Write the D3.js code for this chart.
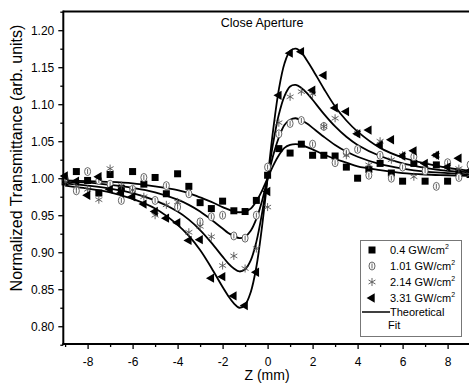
<!DOCTYPE html>
<html><head><meta charset="utf-8">
<script src="https://cdn.jsdelivr.net/npm/d3@7"></script>
<style>body{margin:0;background:#fff}svg{display:block}text{font-family:"Liberation Sans",Arial,sans-serif}</style>
</head><body>
<script>
const zData = [-9,-8.5,-8,-7.5,-7,-6.5,-6,-5.5,-5,-4.5,-4,-3.5,-3,-2.5,-2,-1.5,-1,-0.5,0,0.5,1,1.5,2,2.5,3,3.5,4,4.5,5,5.5,6,6.5,7,7.5,8,8.5,9];
const s040 = [0.995,1.009,0.997,0.980,1.005,0.986,1.009,0.992,1.001,0.979,1.006,0.989,0.967,0.959,0.969,0.956,0.955,0.970,1.004,1.040,1.034,1.046,1.031,1.031,1.030,1.015,1.000,1.012,1.020,1.007,0.996,1.020,0.996,1.018,0.996,1.008,1.005];
const s101 = [1.000,0.983,1.009,0.997,0.992,0.970,0.985,1.001,0.970,0.990,0.961,0.979,0.941,0.948,0.950,0.922,0.919,0.950,1.015,1.060,1.074,1.078,1.046,1.070,1.021,1.035,1.039,1.004,1.031,1.000,1.015,1.029,1.010,0.989,1.021,1.001,1.018];
const s214 = [0.995,0.990,0.985,0.971,1.013,0.990,0.984,0.975,0.950,0.964,0.968,0.927,0.935,0.921,0.882,0.895,0.878,0.905,0.961,1.075,1.110,1.117,1.114,1.070,1.081,1.031,1.061,1.018,1.050,1.025,1.031,1.002,1.018,1.031,1.015,1.013,1.005];
const s331 = [1.003,0.996,0.977,1.002,0.985,0.980,0.975,0.965,0.955,0.946,0.940,0.916,0.917,0.865,0.867,0.841,0.828,0.873,0.982,1.112,1.169,1.171,1.119,1.139,1.095,1.090,1.060,1.065,1.045,1.052,1.030,1.037,1.020,1.031,1.015,1.027,1.010];

const zFit = [-9,-8,-7,-6,-5,-4,-3.5,-3,-2.5,-2,-1.75,-1.5,-1.25,-1,-0.75,-0.5,-0.25,0,0.25,0.5,0.75,1,1.25,1.5,1.75,2,2.5,3,3.5,4,5,6,7,8,9];
const fit040 = [0.997,0.996,0.995,0.993,0.989,0.984,0.980,0.974,0.968,0.961,0.958,0.955,0.954,0.955,0.959,0.969,0.983,1.000,1.017,1.031,1.041,1.045,1.046,1.045,1.042,1.039,1.032,1.026,1.021,1.016,1.011,1.007,1.005,1.004,1.003];
const fit101 = [0.995,0.994,0.991,0.987,0.981,0.971,0.964,0.955,0.944,0.932,0.926,0.922,0.919,0.921,0.929,0.945,0.969,1.000,1.031,1.055,1.072,1.079,1.081,1.078,1.074,1.068,1.056,1.045,1.036,1.029,1.019,1.013,1.009,1.007,1.005];
const fit214 = [0.993,0.990,0.986,0.980,0.970,0.955,0.944,0.930,0.913,0.894,0.885,0.878,0.874,0.877,0.889,0.914,0.952,1.000,1.048,1.086,1.111,1.124,1.126,1.122,1.115,1.106,1.087,1.070,1.056,1.045,1.030,1.020,1.014,1.010,1.008];
const fit331 = [0.990,0.986,0.981,0.972,0.959,0.937,0.922,0.903,0.879,0.853,0.841,0.831,0.825,0.829,0.846,0.880,0.934,1.000,1.066,1.120,1.155,1.172,1.175,1.170,1.159,1.147,1.121,1.097,1.078,1.063,1.041,1.028,1.020,1.014,1.010];

const xTicks = [-8,-6,-4,-2,0,2,4,6,8];
const yTicks = [0.80,0.85,0.90,0.95,1.00,1.05,1.10,1.15,1.20];
const legendLabels = ["0.4 GW/cm","1.01 GW/cm","2.14 GW/cm","3.31 GW/cm"];
const title = "Close Aperture";
const xTitle = "Z (mm)";
const yTitle = "Normalized Transmittance (arb. units)";

const W = 469, H = 383;
const svg = d3.select("body").append("svg").attr("width", W).attr("height", H);
const x = d3.scaleLinear().domain([-9.08, 9.08]).range([63.3, 471.9]);
const y = d3.scaleLinear().domain([0.776, 1.225]).range([344, 11.7]);

// frame top
svg.append("line").attr("x1", 63.3).attr("x2", W).attr("y1", 11.5).attr("y2", 11.5).attr("stroke", "#000").attr("stroke-width", 2);

// fits
const line = d3.line().x((d, i) => x(zFit[i])).y(d => y(d)).curve(d3.curveCatmullRom.alpha(0.5));
[fit040, fit101, fit214, fit331].forEach(f => {
  svg.append("path").attr("d", line(f)).attr("fill", "none").attr("stroke", "#000").attr("stroke-width", 1.8);
});

// markers
function drawMarker(g, type) {
  if (type === 0) g.append("rect").attr("x", -3.5).attr("y", -3.5).attr("width", 7).attr("height", 7).attr("fill", "#000");
  else if (type === 1) {
    g.append("ellipse").attr("rx", 3).attr("ry", 4).attr("fill", "#fff").attr("stroke", "#555").attr("stroke-width", 0.9);
    g.append("line").attr("x1", 0).attr("x2", 0).attr("y1", -2.5).attr("y2", 2.5).attr("stroke", "#555").attr("stroke-width", 0.9);
  } else if (type === 2) {
    g.append("path").attr("d", d3.symbol(d3.symbolAsterisk, 45)()).attr("fill", "none").attr("stroke", "#555").attr("stroke-width", 0.9);
  } else {
    g.append("path").attr("d", d3.symbol(d3.symbolTriangle, 38)()).attr("transform", "rotate(-90)").attr("fill", "#000");
  }
}
[s040, s101, s214, s331].forEach((s, k) => {
  s.forEach((v, i) => {
    const g = svg.append("g").attr("transform", `translate(${x(zData[i])},${y(v)})`);
    drawMarker(g, k);
  });
});

// axes
const xAxis = d3.axisBottom(x).tickValues(xTicks).tickSize(5).tickFormat(d => String(d));
const gx = svg.append("g").attr("transform", "translate(0,344)").call(xAxis);
gx.select(".domain").remove();
gx.selectAll("line").attr("stroke-width", 1.3);
gx.selectAll("text").attr("font-size", 12).attr("y", 13).attr("dy", "0.71em").attr("fill", "#000");
const xMinor = svg.append("g").attr("transform", "translate(0,344)").call(d3.axisBottom(x).tickValues([-9,-7,-5,-3,-1,1,3,5,7]).tickSize(3).tickFormat(""));
xMinor.select(".domain").remove();
xMinor.selectAll("line").attr("stroke-width", 1.3);

const yAxis = d3.axisLeft(y).tickValues(yTicks).tickSize(5).tickFormat(d3.format(".2f"));
const gy = svg.append("g").attr("transform", "translate(63.3,0)").call(yAxis);
gy.select(".domain").remove();
gy.selectAll("line").attr("stroke-width", 1.3);
gy.selectAll("text").attr("font-size", 12).attr("x", -9).attr("fill", "#000");
const yMinor = svg.append("g").attr("transform", "translate(63.3,0)").call(d3.axisLeft(y).tickValues([0.775,0.825,0.875,0.925,0.975,1.025,1.075,1.125,1.175,1.225]).tickSize(3).tickFormat(""));
yMinor.select(".domain").remove();
yMinor.selectAll("line").attr("stroke-width", 1.3);

svg.append("line").attr("x1", 63.3).attr("x2", 63.3).attr("y1", 10.5).attr("y2", 345).attr("stroke", "#000").attr("stroke-width", 2);
svg.append("line").attr("x1", 62.3).attr("x2", W).attr("y1", 344).attr("y2", 344).attr("stroke", "#000").attr("stroke-width", 2);

// titles
svg.append("text").attr("x", 262).attr("y", 27).attr("text-anchor", "middle").attr("font-size", 12.5).text(title);
svg.append("text").attr("x", 267).attr("y", 380).attr("text-anchor", "middle").attr("font-size", 14).text(xTitle);
svg.append("text").attr("transform", "translate(22,158) rotate(-90)").attr("text-anchor", "middle").attr("font-size", 16).text(yTitle);

// legend
const lg = svg.append("g");
lg.append("rect").attr("x", 360.5).attr("y", 240.5).attr("width", 101).attr("height", 96).attr("fill", "#fff").attr("stroke", "#777").attr("stroke-width", 1);
const rowY = [250, 266, 282, 298];
legendLabels.forEach((lab, k) => {
  const g = lg.append("g").attr("transform", `translate(372,${rowY[k]})`);
  drawMarker(g, k);
  const t = lg.append("text").attr("x", 390).attr("y", rowY[k] + 4).attr("font-size", 11).text(lab);
  t.append("tspan").attr("font-size", 7).attr("dy", -5).text("2");
});
lg.append("line").attr("x1", 362).attr("x2", 390).attr("y1", 312).attr("y2", 312).attr("stroke", "#000").attr("stroke-width", 1.5);
lg.append("text").attr("x", 390).attr("y", 316).attr("font-size", 11).text("Theoretical");
lg.append("text").attr("x", 388).attr("y", 329).attr("font-size", 11).text("Fit");
</script>
</body></html>
